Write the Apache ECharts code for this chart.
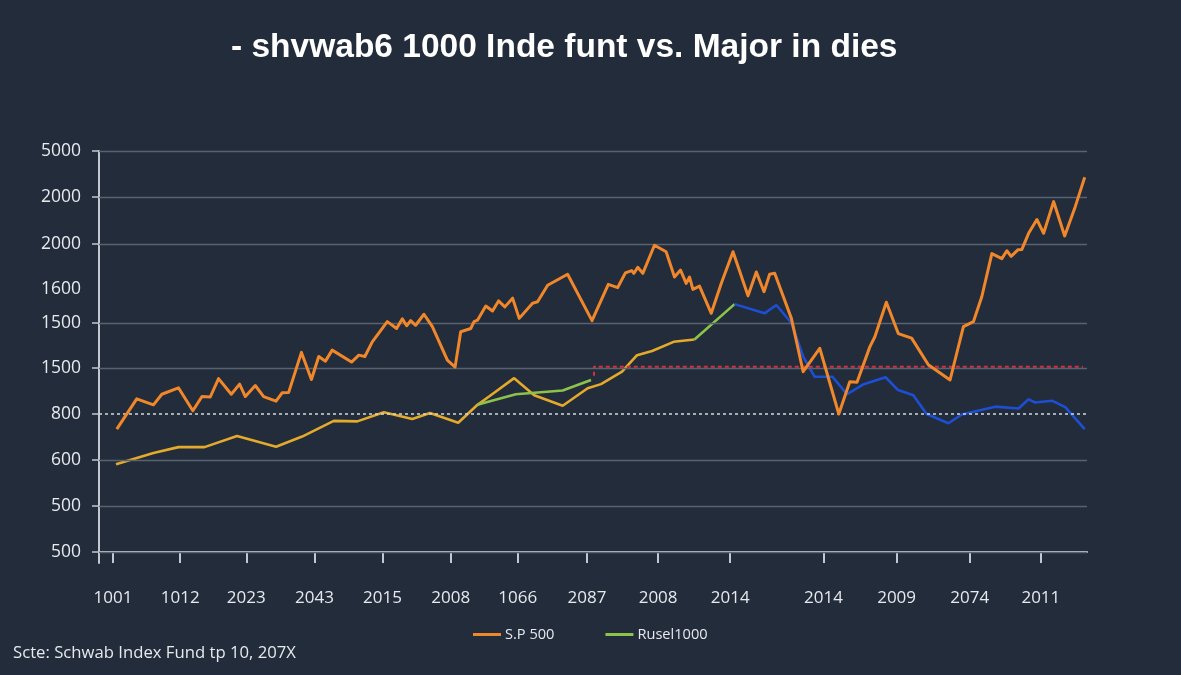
<!DOCTYPE html>
<html>
<head>
<meta charset="utf-8">
<script src="https://cdn.jsdelivr.net/npm/echarts@6/dist/echarts.min.js"></script>
<style>
html,body{margin:0;padding:0;background:#232c3a;}
#chart{width:1181px;height:675px;}
</style>
</head>
<body>
<div id="chart"></div>
<script>
// ---- Data (x in time units 0..100, y in axis levels) ----
const titleText = '- shvwab6 1000 Inde funt vs. Major in dies';
const sourceText = 'Scte: Schwab Index Fund tp 10, 207X';

const xTickPos = [1.42, 8.22, 14.91, 21.81, 28.70, 35.60, 42.39, 49.39, 56.59, 63.89, 73.33, 80.73, 88.13, 95.33];
const xTickLabels = ['1001','1012','2023','2043','2015','2008','1066','2087','2008','2014','2014','2009','2074','2011'];

const yLevels = [0, 1, 2, 3, 4, 4.98, 5.72, 6.70, 7.72, 8.72];
const yLabels = ['500','500','600','800','1500','1500','1600','2000','2000','5000'];
const yGridLevels = [0, 1, 2, 4, 4.98, 6.70, 7.72, 8.72];
const yDashedLevel = 3;

const sp500 = [
 [1.80,2.67],[3.82,3.33],[5.51,3.20],[6.36,3.43],[8.04,3.57],[9.50,3.07],[10.42,3.38],[11.26,3.37],
 [12.10,3.77],[13.39,3.43],[14.23,3.65],[14.81,3.38],[15.82,3.62],[16.66,3.38],[17.92,3.28],[18.53,3.46],
 [19.20,3.47],[20.49,4.34],[21.50,3.75],[22.24,4.25],[22.92,4.15],[23.60,4.39],[25.56,4.13],[26.30,4.28],
 [26.91,4.25],[27.66,4.57],[29.18,5.01],[30.12,4.86],[30.70,5.07],[31.14,4.92],[31.54,5.03],[32.05,4.93],
 [32.89,5.17],[33.74,4.90],[35.26,4.17],[36.04,4.02],[36.61,4.79],[37.63,4.86],[37.96,5.01],[38.31,5.04],
 [39.15,5.35],[39.83,5.24],[40.44,5.46],[41.08,5.33],[41.86,5.52],[42.53,5.08],[43.88,5.41],[44.39,5.44],
 [45.41,5.80],[47.43,6.04],[49.90,5.03],[51.55,5.82],[52.50,5.75],[53.28,6.07],[53.92,6.12],[54.13,6.06],
 [54.53,6.19],[55.04,6.06],[56.22,6.67],[57.40,6.53],[58.25,5.98],[58.86,6.13],[59.43,5.84],[59.77,5.98],
 [60.11,5.71],[60.78,5.78],[61.97,5.19],[62.98,5.84],[64.17,6.53],[65.69,5.57],[66.53,6.09],[67.31,5.66],
 [67.88,6.04],[68.39,6.06],[70.08,5.08],[71.27,3.92],[72.95,4.43],[74.88,3.00],[75.99,3.70],[76.72,3.69],
 [78.02,4.46],[78.53,4.68],[79.69,5.43],[80.90,4.75],[82.25,4.65],[83.94,4.07],[86.14,3.74],[87.49,4.90],
 [88.51,5.01],[89.35,5.55],[90.37,6.49],[91.38,6.38],[91.89,6.55],[92.32,6.43],[93.00,6.57],[93.41,6.58],
 [94.09,6.93],[94.93,7.23],[95.61,6.93],[96.62,7.62],[97.74,6.87],[98.81,7.51],[99.77,8.15]
];

const goldLine = [
 [1.72,1.91],[5.51,2.15],[8.04,2.28],[10.68,2.28],[13.97,2.52],[17.92,2.29],[20.56,2.51],[23.76,2.85],
 [26.14,2.84],[28.83,3.04],[31.71,2.89],[33.50,3.02],[36.36,2.81],[38.31,3.20],[39.48,3.38],[42.02,3.78],
 [44.05,3.41],[46.93,3.18],[49.46,3.56],[50.81,3.65],[52.94,3.92],[54.46,4.28],[55.98,4.37],[58.16,4.57],
 [60.27,4.62]
];

const russell1000 = [
 [38.31,3.20],[39.48,3.27],[42.19,3.43],[46.93,3.51],[49.80,3.74],
 [55.00,null],
 [60.27,4.62],[64.33,5.39]
];

const blueLine = [
 [64.33,5.39],[67.37,5.19],[68.56,5.37],[70.08,4.98],[71.27,4.25],[72.44,3.81],[74.24,3.81],[75.71,3.43],
 [77.33,3.64],[79.61,3.80],[80.88,3.52],[82.42,3.41],[83.77,3.00],[85.97,2.80],[87.32,2.99],[90.70,3.16],
 [93.07,3.12],[94.09,3.32],[94.76,3.25],[96.45,3.29],[97.80,3.15],[99.77,2.67]
];

const redDashed = [[50.10,3.83],[50.10,4.03],[99.59,4.03]];

// ---- Chart ----
const chart = echarts.init(document.getElementById('chart'), null, {renderer:'canvas'});
function nearestLabel(v, pos, labels){
  let best = 0, d = Infinity;
  for (let i = 0; i < pos.length; i++){ const dd = Math.abs(pos[i]-v); if (dd < d){ d = dd; best = i; } }
  return labels[best];
}
const axisColor = '#c3c8d0';
const textColor = '#e6e9ee';
const gridData = yGridLevels.map(v => ({yAxis: v}));
gridData.push({yAxis: yDashedLevel, lineStyle:{type:[3,3], color:'#d3d7dd', width:1.5}});

chart.setOption({
  backgroundColor:'#232c3a',
  animation:false,
  title:{
    text: titleText, left: 226, top: 26,
    textStyle:{color:'#ffffff', fontSize:33.5, fontWeight:'bold', fontFamily:'Liberation Sans'}
  },
  graphic:[{
    type:'text', left: 13, top: 645,
    style:{text: sourceText, fill: textColor, font: '16.7px "Open Sans"'}
  }],
  legend:{
    data:['S.P 500','Rusel1000'], left: 473, top: 627, padding:0,
    icon:'rect', itemWidth:28, itemHeight:3, itemGap:51,
    textStyle:{color:textColor, fontSize:14.6, fontFamily:'Open Sans', padding:[0,0,0,-1]}
  },
  grid:{left:99, right:94, top:151, bottom:112, containLabel:false},
  xAxis:{
    type:'value', min:0, max:100,
    axisLine:{show:true, lineStyle:{color:axisColor, width:2}},
    axisTick:{show:true, customValues:xTickPos, length:11, lineStyle:{color:axisColor, width:2}},
    axisLabel:{customValues:xTickPos, formatter:v => nearestLabel(v, xTickPos, xTickLabels),
      color:textColor, fontSize:17, fontFamily:'Open Sans', margin:27},
    splitLine:{show:false}
  },
  yAxis:{
    type:'value', min:-0.24, max:8.72,
    axisLine:{show:true, lineStyle:{color:axisColor, width:2}},
    axisTick:{show:true, customValues:yGridLevels.concat([yDashedLevel]), length:7, lineStyle:{color:axisColor, width:1.5}},
    axisLabel:{customValues:yLevels, formatter:v => nearestLabel(v, yLevels, yLabels),
      color:textColor, fontSize:17.5, fontFamily:'Open Sans', margin:18},
    splitLine:{show:false}
  },
  series:[
    {name:'grid', type:'line', data:[], z:1, silent:true,
     markLine:{silent:true, symbol:['none','none'], label:{show:false},
       lineStyle:{type:'solid', color:'#59626f', width:1.3}, data:gridData}},
    {name:'Gold', type:'line', data:goldLine, symbol:'none', z:3,
     lineStyle:{color:'#e3aa2c', width:2.6}, itemStyle:{color:'#e3aa2c'}},
    {name:'Rusel1000', type:'line', data:russell1000, symbol:'none', z:4,
     lineStyle:{color:'#8cc34b', width:2.6}, itemStyle:{color:'#8cc34b'}},
    {name:'Blue', type:'line', data:blueLine, symbol:'none', z:4,
     lineStyle:{color:'#1d4fd4', width:2.6}, itemStyle:{color:'#1d4fd4'}},
    {name:'Red', type:'line', data:redDashed, symbol:'none', z:4,
     lineStyle:{color:'#dd2e3e', width:2, type:[4,3]}, itemStyle:{color:'#dd2e3e'}},
    {name:'S.P 500', type:'line', data:sp500, symbol:'none', z:5,
     lineStyle:{color:'#f0872a', width:3, join:'round'}, itemStyle:{color:'#f0872a'}}
  ]
});
</script>
</body>
</html>
